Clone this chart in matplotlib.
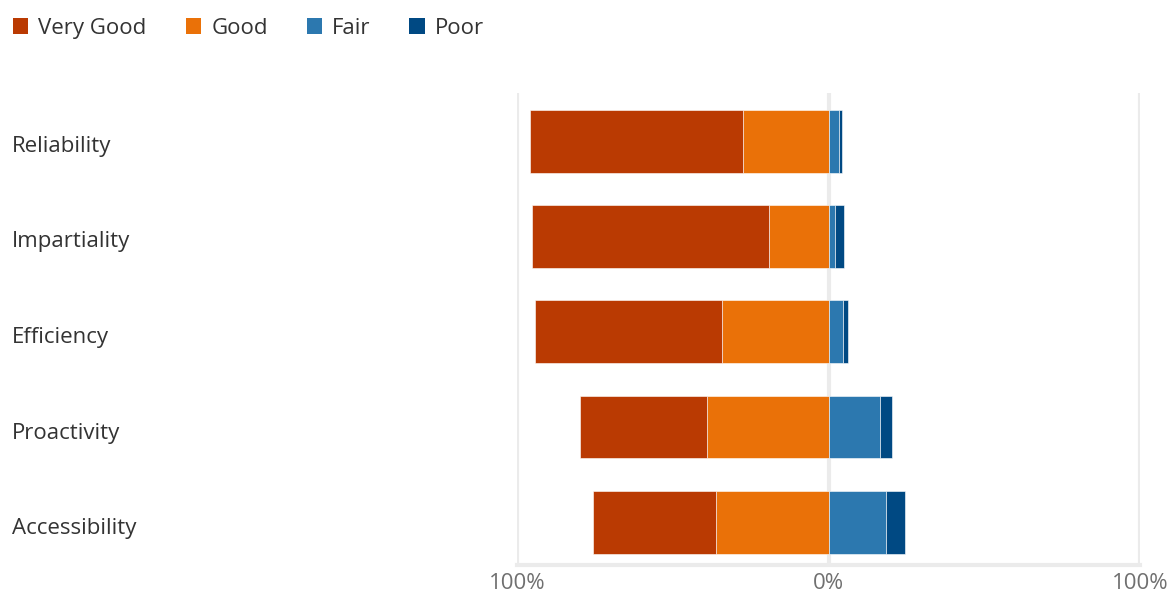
import matplotlib.pyplot as plt
from matplotlib.patches import Patch
import numpy as np

# survey ratings, share of responses (%)
categories = ["Reliability", "Impartiality", "Efficiency", "Proactivity", "Accessibility"]
very_good = [68.4, 76.1, 60.0, 40.9, 39.5]
good = [27.4, 19.2, 34.1, 38.9, 36.0]
fair = [3.3, 2.2, 4.6, 16.4, 18.6]
poor = [1.1, 2.9, 1.6, 4.1, 6.1]

series_names = ["Very Good", "Good", "Fair", "Poor"]
colors = ["#BA3A02", "#EA7108", "#2C78AF", "#004983"]

plt.rcParams['font.family'] = ['Open Sans', 'DejaVu Sans']

fig = plt.figure(figsize=(11.73, 5.98), dpi=100)
W, H = 1173, 598
ax = fig.add_axes([517 / W, 1 - 565 / H, (1140 - 517) / W, (565 - 93) / H])

y = np.arange(len(categories))
vg = np.array(very_good)
gd = np.array(good)
fr = np.array(fair)
pr = np.array(poor)

h = 0.66
kw = dict(height=h, edgecolor="white", linewidth=0.4, zorder=3)
ax.barh(y, -gd, left=0, color=colors[1], **kw)
ax.barh(y, -vg, left=-gd, color=colors[0], **kw)
ax.barh(y, fr, left=0, color=colors[2], **kw)
ax.barh(y, pr, left=fr, color=colors[3], **kw)

ax.set_xlim(-100, 100)
ax.set_ylim(len(categories) - 1 + 0.45, -0.51)

for s in ax.spines.values():
    s.set_visible(False)
for xv in [-100, 0, 100]:
    ax.axvline(xv, color="#EBEBEB", lw=3, zorder=1)
ax.axhline(len(categories) - 1 + 0.45, color="#EBEBEB", lw=3, zorder=1, clip_on=False)

ax.set_xticks([-100, 0, 100])
ax.set_xticklabels(["100%", "0%", "100%"])
ax.tick_params(axis="x", length=0, pad=6, labelsize=16, labelcolor="#707070")
ax.set_yticks([])

for i, c in enumerate(categories):
    fig.text(12 / W, 1 - (146 + i * 95.7) / H, c, ha="left", va="center",
             fontsize=16, color="#333333")

handles = [Patch(facecolor=c, edgecolor="none") for c in colors]
fig.legend(handles, series_names, loc="upper left", bbox_to_anchor=(4 / W, 1 - 9 / H),
           ncol=4, frameon=False, fontsize=16, labelcolor="#333333",
           handlelength=0.7, handleheight=0.7, handletextpad=0.45,
           columnspacing=1.75, borderaxespad=0)

fig.savefig("out.png", dpi=100)
